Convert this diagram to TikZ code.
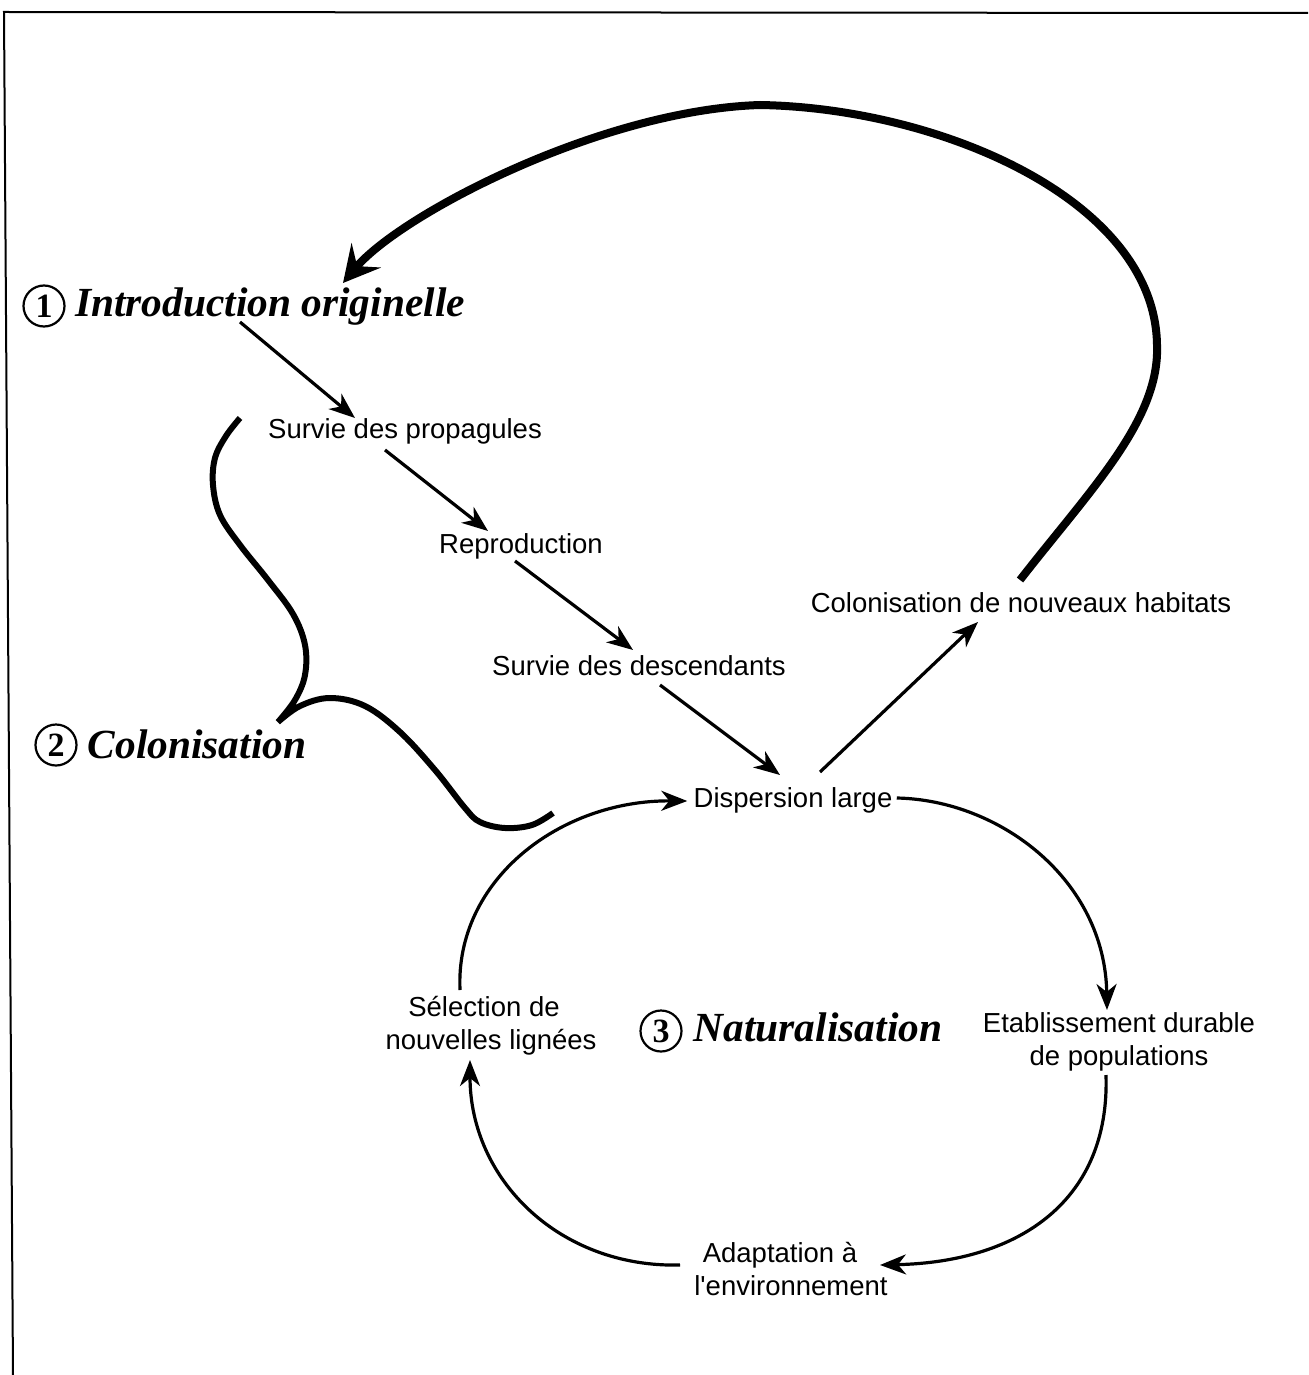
\documentclass[tikz,border=0pt]{standalone}
\usepackage{fontspec}
\setmainfont{Liberation Sans}
\newfontfamily\titlefont{Liberation Serif}
\usetikzlibrary{calc,arrows.meta}
\tikzset{
  stage/.style={font={\fontsize{13.75}{16.5}\selectfont}, inner sep=0pt, align=center},
  phase/.style={font={\fontsize{20.7}{24}\titlefont\bfseries\itshape}, inner sep=0pt},
  num/.style={draw, circle, line width=1.1pt, minimum size=20.5pt, inner sep=0pt, font={\fontsize{17}{17}\titlefont\bfseries}},
  arrow/.style={-{Stealth[length=13pt,width=10pt,inset=4pt]}, line width=1.6pt},
  bigarrow/.style={-{Stealth[length=18pt,width=19pt,inset=7pt]}, line width=4pt},
  bracket/.style={line width=3pt},
  pageframe/.style={line width=1pt}
}
\begin{document}
\begin{tikzpicture}[x=0.5pt, y=-0.5pt]
  \useasboundingbox (0,0) rectangle (1308,1375);
  \draw[pageframe] (13,1375) -- (4,12) -- (1308,13);
  \node[num] (n1) at (44,306) {1};
  \node[phase] (intro) at (270,307) {Introduction originelle};
  \node[num] (n2) at (56,745) {2};
  \node[phase] (colon) at (197,744) {Colonisation};
  \node[num] (n3) at (661,1031) {3};
  \node[phase] (natur) at (818,1027) {Naturalisation};
  \node[stage] (prop) at (405,431) {Survie des propagules};
  \node[stage] (repro) at (521,546) {Reproduction};
  \node[stage] (desc) at (639,666) {Survie des descendants};
  \node[stage] (disp) at (793,800) {Dispersion large};
  \node[stage] (colhab) at (1021,603) {Colonisation de nouveaux habitats};
  \node[stage] (etab) at (1119,1042) {Etablissement durable\\de populations};
  \node[stage] (adapt) at (791,1269) {Adaptation à\kern11pt\\l\textquotesingle environnement};
  \node[stage] (sel) at (491,1026) {Sélection de\kern7pt\\nouvelles lignées};
  \draw[arrow] ($(intro)+(-30,15)$) -- ($(prop)+(-50,-13)$);
  \draw[arrow] ($(prop)+(-20,19)$) -- ($(repro)+(-33,-15)$);
  \draw[arrow] ($(repro)+(-6,15)$) -- ($(desc)+(-6,-16)$);
  \draw[arrow] ($(desc)+(21,19)$) -- ($(disp)+(-13,-25)$);
  \draw[arrow] ($(disp)+(27,-28)$) -- ($(colhab)+(-43,19)$);
  \draw[arrow] ($(sel)+(-31,-36)$) .. controls (455,880) and (560,800) .. ($(disp.west)+(-6,1)$);
  \draw[arrow] ($(disp.east)+(4,-2)$) .. controls (1000,800) and (1105,880) .. ($(etab)+(-12,-32)$);
  \draw[arrow] ($(etab)+(-13,33)$) .. controls (1110,1200) and (1020,1262) .. ($(adapt)+(89,-4)$);
  \draw[arrow] ($(adapt)+(-111,-4)$) .. controls (560,1268) and (470,1180) .. ($(sel)+(-21,34)$);
  \draw[bigarrow] ($(colhab)+(-1,-23)$) .. controls (1090,490) and (1160,420) .. (1157,345)
    .. controls (1155,200) and (940,108) .. (760,105)
    .. controls (600,110) and (400,215) .. ($(intro)+(73,-24)$);
  \draw[bracket] plot[smooth, tension=0.6] coordinates {(240,418) (226,436) (215,458) (213,485) (220,515) (240,545) (268,580) (293,614) (305,645) (305,675) (295,700) (278,722)}
    -- plot[smooth, tension=0.6] coordinates {(278,722) (300,706) (330,698) (365,706) (400,732) (435,770) (465,808) (480,822) (505,828) (532,825) (553,813)};
\end{tikzpicture}
\end{document}
